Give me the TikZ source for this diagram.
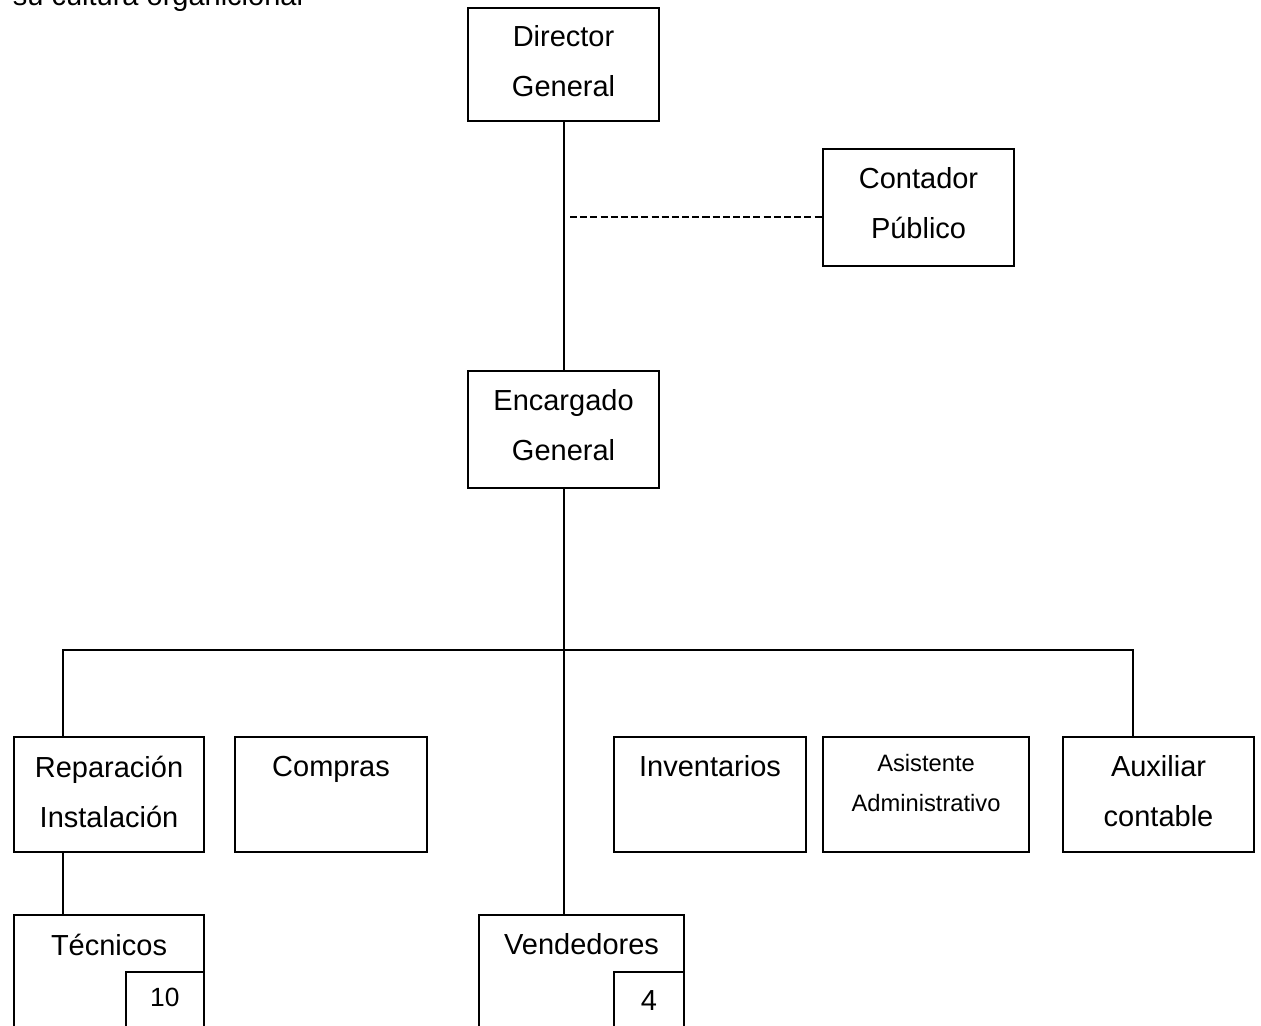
\documentclass[tikz,border=0pt]{standalone}
\usepackage{fontspec}
\setmainfont{Liberation Sans}
\usetikzlibrary{positioning}

\begin{document}
\begin{tikzpicture}[
        x=0.02cm, y=-0.02cm,
        node distance=.38cm,
        every path/.style={line width=1.1pt},
        puesto/.style={draw, line width=1.2pt, anchor=north west, inner sep=0pt, minimum width=3.82cm, minimum height=2.3cm},
        cifra/.style={draw, line width=1pt, anchor=north west, inner sep=0pt, minimum height=1.4cm},
        rotulo/.style={align=center, inner sep=0pt, font=\fontsize{16.5}{28.45}\selectfont},
        chico/.style={align=center, inner sep=0pt, font=\fontsize{13.5}{22.8}\selectfont}
    ]
  \useasboundingbox (0,0) rectangle (1261,1026);

  % Texto cortado arriba
  \node (titulo) [rotulo, anchor=base west] at (12,6) {su cultura organicional};

  % Puestos
  \node (director) [puesto, minimum height=2.26cm] at (467,7) {};
  \node (contador) [puesto, minimum height=2.34cm] at (822,148) {};
  \node (encargado) [puesto, minimum height=2.34cm] at (467,370) {};
  \node (reparacion) [puesto, minimum width=3.8cm] at (13,736) {};
  \node (compras) [puesto, minimum width=3.84cm] at (234,736) {};
  \node (inventarios) [puesto, minimum width=3.84cm] at (613,736) {};
  \node (asistente) [puesto, minimum width=4.12cm] at (822,736) {};
  \node (auxiliar) [puesto] at (1062,736) {};
  \node (tecnicos) [puesto, minimum width=3.8cm, minimum height=2.8cm] at (13,914) {};
  \node (vendedores) [puesto, minimum width=4.1cm, minimum height=2.8cm] at (478,914) {};
  \node (n10) [cifra, minimum width=1.56cm] at (125,971) {};
  \node (n4) [cifra, minimum width=1.4cm] at (613,971) {};

  % Rotulos
  \node (t-director) [rotulo, below=.36cm of director.north] {Director\\General};
  \node (t-contador) [rotulo, below=of contador.north] {Contador\\Público};
  \node (t-encargado) [rotulo, below=of encargado.north] {Encargado\\General};
  \node (t-reparacion) [rotulo, below=of reparacion.north] {Reparación\\Instalación};
  \node (t-compras) [rotulo, below=of compras.north] {Compras};
  \node (t-inventarios) [rotulo, below=of inventarios.north] {Inventarios};
  \node (t-asistente) [chico, below=.34cm of asistente.north] {Asistente\\Administrativo};
  \node (t-auxiliar) [rotulo, below=of auxiliar.north] {Auxiliar\\contable};
  \node (t-tecnicos) [rotulo, below=of tecnicos.north] {Técnicos};
  \node (t-vendedores) [rotulo, below=of vendedores.north] {Vendedores};
  \node (t-n10) [rotulo, font=\fontsize{15}{20}\selectfont, below=.33cm of n10.north] {10};
  \node (t-n4) [rotulo, below=.38cm of n4.north] {4};

  % Lineas
  \coordinate (ramaI) at (63,650);
  \coordinate (ramaD) at (1133,650);
  \coordinate (enlace) at (570,217);

  \draw (director) -- (encargado);
  \draw (encargado.south) -- (encargado.south |- vendedores.north);
  \draw (ramaI |- reparacion.north) -- (ramaI) -- (ramaD) -- (ramaD |- auxiliar.north);
  \draw (ramaI |- reparacion.south) -- (ramaI |- tecnicos.north);
  \draw[dash pattern=on 4pt off 1.8pt] (enlace) -- (enlace -| contador.west);
\end{tikzpicture}
\end{document}
